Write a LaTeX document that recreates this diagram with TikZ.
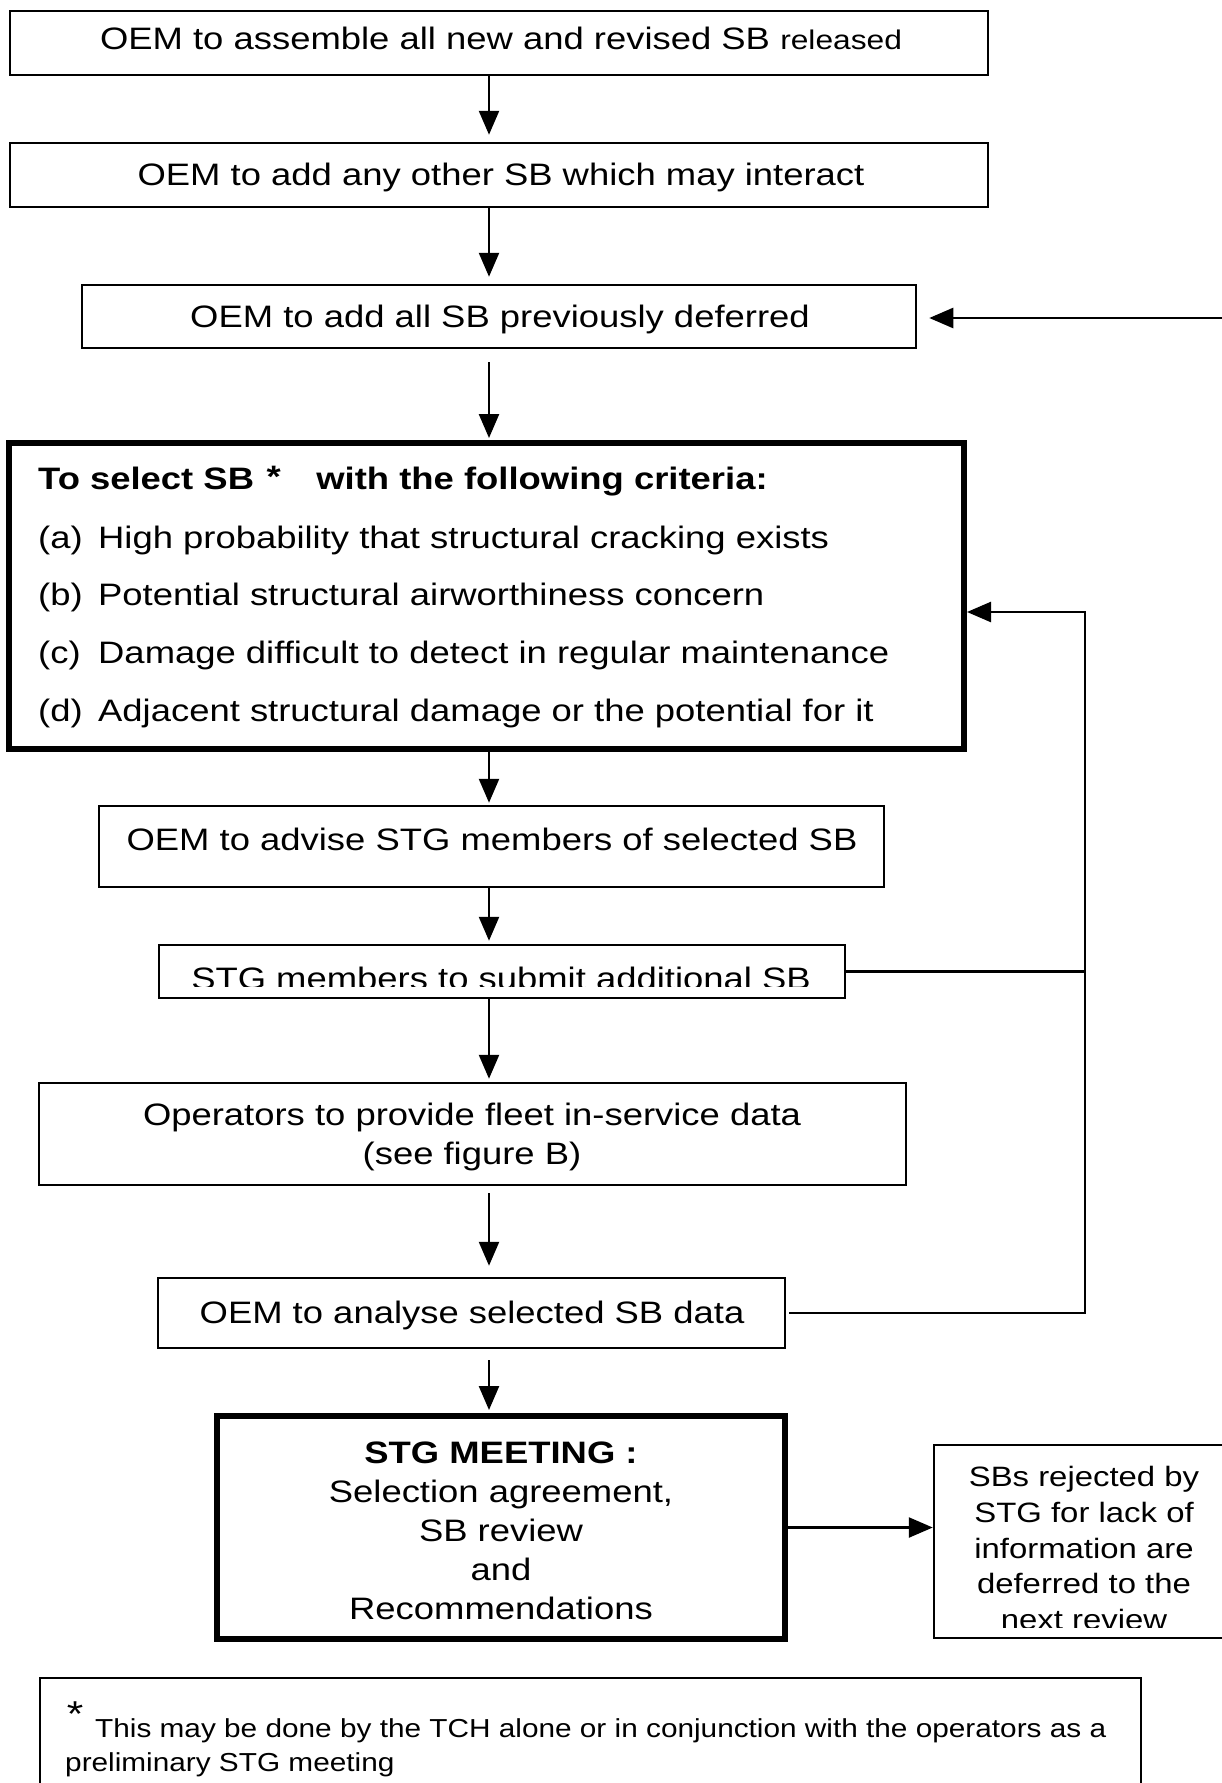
\documentclass[tikz,border=0pt]{standalone}
\usepackage{fontspec}
\setmainfont{Liberation Sans}[FakeStretch=1.175]
\newfontfamily\footfont{Liberation Sans}[FakeStretch=1.145]
\usetikzlibrary{arrows.meta,calc}
\begin{document}
\begin{tikzpicture}[x=1pt,y=-1pt,
  box/.style={draw,line width=2.5pt,inner sep=0pt,rectangle},
  thickbox/.style={draw,line width=6pt,inner sep=0pt,rectangle},
  txt/.style={inner sep=0pt,font=\fontsize{31}{39}\selectfont},
  foottxt/.style={inner sep=0pt,font=\footfont\fontsize{26}{30}\selectfont},
  conn/.style={line width=2.5pt},
  arr/.style={conn,-{Triangle[length=24pt,width=20pt]}},
]
\useasboundingbox (0,0) rectangle (1222,1783);
\fill[white] (0,0) rectangle (1222,1783);

% boxes
\node[box,minimum width=978,minimum height=64] (b1) at (499,43) {};
\node[txt,anchor=base] (t1) at (501,49) {OEM to assemble all new and revised SB {\fontsize{27}{30}\selectfont released}};

\node[box,minimum width=978,minimum height=64] (b2) at (499,175) {};
\node[txt,anchor=base] (t2) at (501,185) {OEM to add any other SB which may interact};

\node[box,minimum width=834,minimum height=63] (b3) at (499,316.5) {};
\node[txt,anchor=base] (t3) at (500,327) {OEM to add all SB previously deferred};

\node[thickbox,minimum width=955,minimum height=306] (b4) at (486.5,596) {};
\node[txt,anchor=base west] (t4) at (38,489) {\bfseries To select SB\hspace{0.4em}\raisebox{2pt}{*}\hspace{1.15em}with the following criteria:};
\node[txt,anchor=base west] (l1) at (38,548) {(a)};
\node[txt,anchor=base west] (i1) at (98,548) {High probability that structural cracking exists};
\node[txt,anchor=base west] (l2) at (38,605) {(b)};
\node[txt,anchor=base west] (i2) at (98,605) {Potential structural airworthiness concern};
\node[txt,anchor=base west] (l3) at (38,663) {(c)};
\node[txt,anchor=base west] (i3) at (98,663) {Damage difficult to detect in regular maintenance};
\node[txt,anchor=base west] (l4) at (38,721) {(d)};
\node[txt,anchor=base west] (i4) at (98,721) {Adjacent structural damage or the potential for it};

\node[box,minimum width=785,minimum height=81] (b5) at (491.5,846.5) {};
\node[txt,anchor=base] (t5) at (492,850) {OEM to advise STG members of selected SB};

\node[box,minimum width=686,minimum height=53] (b6) at (502,971.5) {};
\begin{scope}
\clip (150,940) rectangle (860,986);
\node[txt,anchor=base] (t6) at (501,989) {STG members to submit additional SB};
\end{scope}

\node[box,minimum width=867,minimum height=102] (b7) at (472.5,1134) {};
\node[txt,align=center] (t7) at (472,1137) {Operators to provide fleet in-service data\\(see figure B)};

\node[box,minimum width=627,minimum height=70] (b8) at (471.5,1313) {};
\node[txt,anchor=base] (t8) at (472,1323) {OEM to analyse selected SB data};

\node[thickbox,minimum width=568,minimum height=223] (b9) at (501,1527.5) {};
\node[txt,align=center] (t9) at (501,1531) {\textbf{STG MEETING :}\\Selection agreement,\\SB review\\and\\Recommendations};

\node[box,minimum width=300,minimum height=193] (b10) at (1084,1541.5) {};
\begin{scope}
\clip (935,1446) rectangle (1230,1627);
\node[txt,align=center,font=\fontsize{28}{35.6}\selectfont] (t10) at (1084,1548) {SBs rejected by\\STG for lack of\\information are\\deferred to the\\next review};
\end{scope}

\node[box,minimum width=1101,minimum height=130] (fn) at (590.5,1743) {};
\node[inner sep=0pt,font=\fontsize{36}{36}\selectfont,anchor=north] (ast) at (75,1702) {*};
\node[foottxt,anchor=base west] (f1) at (95,1737) {This may be done by the TCH alone or in conjunction with the operators as a};
\node[foottxt,anchor=base west] (f2) at (65,1771) {preliminary STG meeting};

% main flow arrows
\coordinate (ax) at (489,0);
\draw[arr,shorten >=7pt] (b1.south -| ax) -- (b2.north -| ax);
\draw[arr,shorten >=7pt] (b2.south -| ax) -- (b3.north -| ax);
\draw[arr,shorten <=13pt,shorten >=2pt] (b3.south -| ax) -- (b4.north -| ax);
\draw[arr,shorten >=2pt] (b4.south -| ax) -- (b5.north -| ax);
\draw[arr,shorten >=3pt] (b5.south -| ax) -- (b6.north -| ax);
\draw[arr,shorten >=3pt] (b6.south -| ax) -- (b7.north -| ax);
\draw[arr,shorten <=7pt,shorten >=11pt] (b7.south -| ax) -- (b8.north -| ax);
\draw[arr,shorten <=11pt,shorten >=3pt] (b8.south -| ax) -- (b9.north -| ax);

% feedback
\coordinate (fbt) at (1085,612);
\draw[conn] (b6.east) -- (b6.east -| fbt);
\draw[arr,shorten <=3pt] (b8.east) -| (fbt) -- (b4.east |- fbt);

% incoming from right
\coordinate (rin) at (1230,318);
\draw[arr,shorten >=12pt] (rin) -- (b3.east |- rin);

% to rejected
\draw[arr] (b9.east) -- (b10.west |- b9.east);
\end{tikzpicture}
\end{document}
